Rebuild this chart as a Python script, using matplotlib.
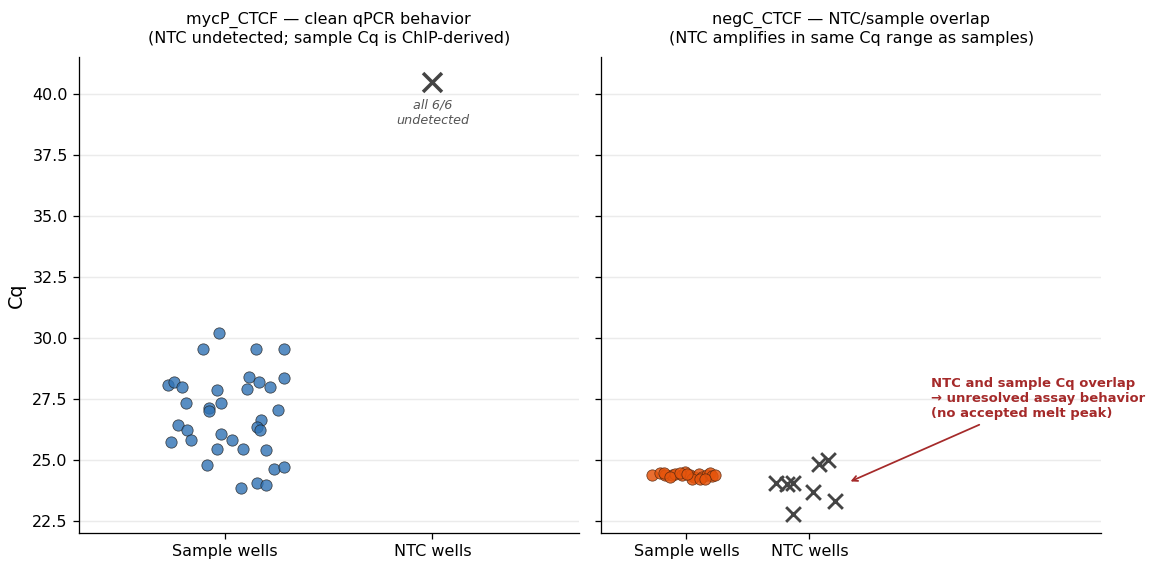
import numpy as np
import matplotlib
matplotlib.use("Agg")
import matplotlib.pyplot as plt

categories = ["Sample wells", "NTC wells"]

# mycP_CTCF sample wells: (jitter offset, Cq)
myc_jit = [-0.030, -0.105, 0.148, 0.282, -0.274, -0.245, -0.208, 0.117, 0.164, 0.217,
           0.285, -0.037, 0.108, -0.188, -0.079, -0.079, -0.018, 0.256, -0.225, -0.182,
           0.174, 0.156, 0.166, -0.262, -0.164, -0.021, 0.032, -0.037, 0.088, 0.195,
           -0.088, 0.237, 0.285, 0.079, 0.153, 0.198]
myc_cq = [30.19, 29.54, 29.54, 29.56, 28.05, 28.18, 28.00, 28.39, 28.18, 28.00,
          28.35, 27.84, 27.90, 27.34, 27.12, 26.98, 27.31, 27.02, 26.41, 26.20,
          26.61, 26.34, 26.20, 25.74, 25.82, 26.07, 25.79, 25.45, 25.44, 25.41,
          24.77, 24.62, 24.70, 23.84, 24.04, 23.98]
myc_ntc_placeholder = 40.5
myc_ntc_note = "all 6/6\nundetected"

# negC_CTCF sample wells
neg_jit = [-0.279, -0.211, -0.171, -0.117, -0.089, -0.035, -0.008, 0.033, 0.060, 0.100,
           0.127, 0.168, 0.195, 0.209, 0.236, -0.184, -0.130, 0.046, 0.114, 0.154,
           -0.049, 0.006]
neg_cq = [24.38, 24.46, 24.38, 24.38, 24.42, 24.38, 24.50, 24.38, 24.28, 24.42,
          24.28, 24.38, 24.46, 24.33, 24.38, 24.46, 24.28, 24.23, 24.21, 24.23,
          24.44, 24.42]
# negC_CTCF NTC wells
ntc_jit = [-0.27, -0.18, -0.13, 0.03, 0.08, 0.15, 0.21, -0.13]
ntc_cq = [24.06, 24.02, 24.06, 23.69, 24.82, 24.97, 23.30, 22.77]

note_text = "NTC and sample Cq overlap\n\u2192 unresolved assay behavior\n(no accepted melt peak)"

DPI = 115
fig, (ax1, ax2) = plt.subplots(1, 2, figsize=(1151 / DPI, 561 / DPI), dpi=DPI, sharey=True)
fig.subplots_adjust(left=0.0686, right=0.9566, top=0.898, bottom=0.05, wspace=0.046)

for ax in (ax1, ax2):
    ax.spines["top"].set_visible(False)
    ax.spines["right"].set_visible(False)
    ax.grid(axis="y", color="#ebebeb", linewidth=0.9)
    ax.set_axisbelow(True)
    ax.set_xticks([0, 1])
    ax.set_xticklabels(categories, fontsize=10)
    ax.tick_params(labelsize=10)

# left panel
ax1.scatter(np.array(myc_jit), myc_cq, s=50, color="#2f72b5", alpha=0.8,
            edgecolor="#222222", linewidth=0.5, zorder=3)
ax1.scatter([1], [myc_ntc_placeholder], marker="x", s=140, color="#444444",
            linewidth=2.2, zorder=3)
ax1.text(1, myc_ntc_placeholder - 0.7, myc_ntc_note, ha="center", va="top",
         fontsize=8, style="italic", color="#555555")
ax1.set_xlim(-0.705, 1.705)
ax1.set_ylim(22.0, 41.5)
ax1.set_yticks([22.5, 25.0, 27.5, 30.0, 32.5, 35.0, 37.5, 40.0])
ax1.set_ylabel("Cq", fontsize=12)
ax1.set_title("mycP_CTCF \u2014 clean qPCR behavior\n(NTC undetected; sample Cq is ChIP-derived)",
              fontsize=10, pad=9)

# right panel
ax2.scatter(np.array(neg_jit), neg_cq, s=50, color="#e6550d", alpha=0.85,
            edgecolor="#5a2a10", linewidth=0.5, zorder=3)
ax2.scatter(1 + np.array(ntc_jit), ntc_cq, marker="x", s=85, color="#444444",
            linewidth=1.8, zorder=3)
ax2.set_xlim(-0.69, 3.37)
ax2.tick_params(labelleft=False)
ax2.set_title("negC_CTCF \u2014 NTC/sample overlap\n(NTC amplifies in same Cq range as samples)",
              fontsize=10, pad=9)
ax2.annotate(note_text, xy=(1.31, 24.06), xytext=(1.99, 27.5),
             ha="left", va="center", fontsize=8.2, fontweight="bold", color="#a52a2a",
             annotation_clip=False,
             arrowprops=dict(arrowstyle="->", color="#a52a2a", lw=1.1))

fig.savefig("out.png", dpi=DPI)
